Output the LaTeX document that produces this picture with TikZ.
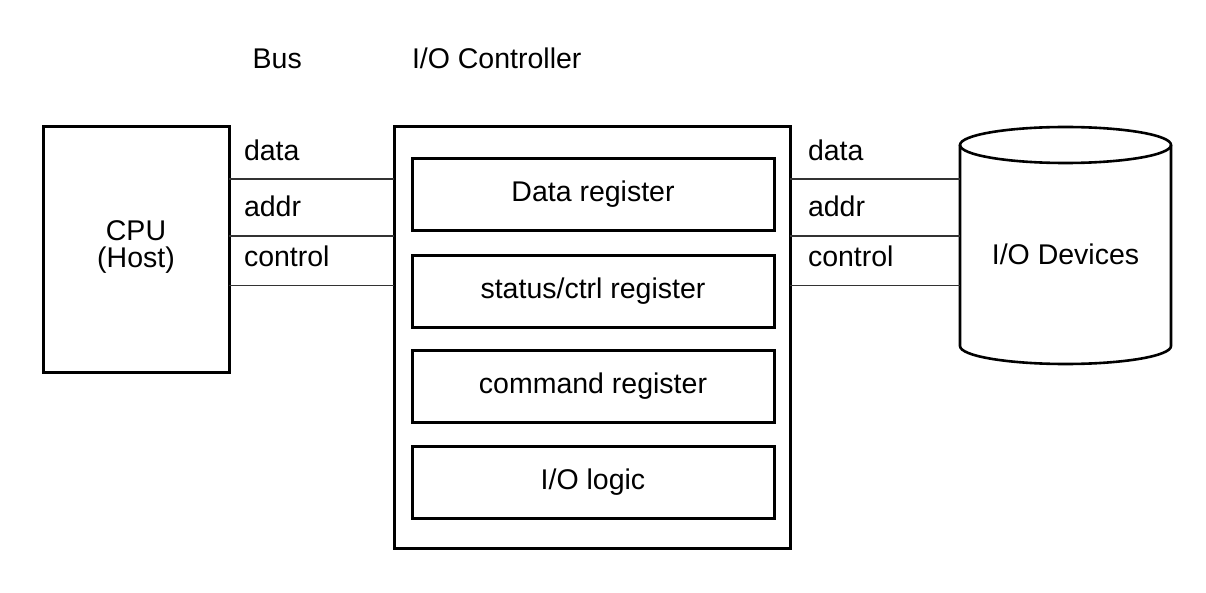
\documentclass[tikz,border=0pt]{standalone}
\usepackage{fontspec}
\setmainfont{Liberation Sans}
\begin{document}
\begin{tikzpicture}[x=1pt,y=-1pt,
  every node/.style={font=\fontsize{28.5}{27}\selectfont, inner sep=0pt, outer sep=0pt},
  boxframe/.style={draw=black, line width=3pt},
  regbox/.style={boxframe, minimum width=362pt, minimum height=72pt, text height=20pt, text depth=6pt},
  busline/.style={draw=black!80, line width=1.4pt},
  lbl/.style={anchor=base west}]
\useasboundingbox (0,0) rectangle (1206,593);
% titles
\node[lbl] (bus) at (252.7,68.3) {Bus};
\node[lbl] (ctitle) at (412,68.3) {I/O Controller};
% CPU
\node[boxframe, minimum width=186pt, minimum height=245pt, align=center] (cpu) at (136,249.5) {};
\node[align=center] (cputext) at (136,247) {CPU\\(Host)};
% controller
\node[boxframe, minimum width=396pt, minimum height=421pt] (ctrl) at (592,337.5) {};
\node[regbox] (dreg) at (593,195) {Data register};
\node[regbox] (sreg) at (593,291.5) {status/ctrl register};
\node[regbox] (creg) at (593,386.5) {command register};
\node[regbox] (lreg) at (593,482.5) {I/O logic};
% devices (cylinder)
\node[minimum width=211pt, minimum height=201pt] (dev) at (1065.5,245.5) {};
\draw[line width=2.6pt] (dev.north west) -- (dev.south west)
  arc[start angle=180, end angle=0, x radius=105.5, y radius=18] -- (dev.north east);
\draw[line width=2.6pt] (dev.north) ellipse [x radius=105.5, y radius=18];
\node[anchor=base] (devtext) at (1065.5,265) {I/O Devices};
% bus levels
\coordinate (yd) at (0,179);
\coordinate (ya) at (0,236);
\coordinate (yc) at (0,285.7);
\draw[busline] (cpu.east |- yd) -- (ctrl.west |- yd);
\draw[busline] (cpu.east |- ya) -- (ctrl.west |- ya);
\draw[busline] (cpu.east |- yc) -- (ctrl.west |- yc);
\draw[busline] (ctrl.east |- yd) -- (dev.west |- yd);
\draw[busline] (ctrl.east |- ya) -- (dev.west |- ya);
\draw[busline] (ctrl.east |- yc) -- (dev.west |- yc);
% bus labels
\node[lbl] (ld1) at (244,161) {data};
\node[lbl] (la1) at (244,217) {addr};
\node[lbl] (lc1) at (244,266.7) {control};
\node[lbl] (ld2) at (808,161) {data};
\node[lbl] (la2) at (808,217) {addr};
\node[lbl] (lc2) at (808,266.7) {control};
\end{tikzpicture}
\end{document}
